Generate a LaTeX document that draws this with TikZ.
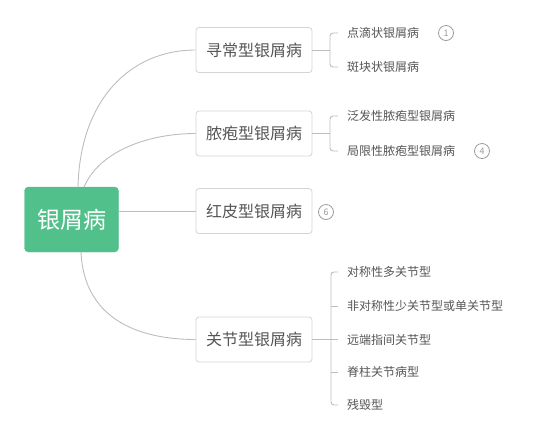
\documentclass[tikz,border=0pt]{standalone}
\usepackage{fontspec}
\setmainfont{Noto Sans CJK SC}
\usetikzlibrary{calc}
\begin{document}
\begin{tikzpicture}[x=1pt,y=-1pt,
  rootbox/.style={fill=rootgreen,draw=rootgreen,rounded corners=4pt,minimum width=94pt,minimum height=65pt,text=white,font=\fontsize{23}{26}\selectfont,inner sep=0pt},
  catbox/.style={draw=boxgray,line width=0.8pt,rounded corners=3pt,minimum width=116pt,minimum height=45pt,text=txtgray,font=\fontsize{16}{18}\selectfont,inner sep=0pt},
  leaf/.style={anchor=west,text=txtgray,font=\fontsize{12}{14}\selectfont,inner sep=0pt},
  numcirc/.style={draw=circgray,circle,line width=0.8pt,minimum size=15pt,inner sep=0pt,text=circgray,font=\fontsize{9}{10}\selectfont},
  conn/.style={draw=linegray,line width=0.9pt},
  brk/.style={draw=linegray,line width=0.9pt,rounded corners=3pt}
]
\definecolor{rootgreen}{HTML}{52C08A}
\definecolor{boxgray}{HTML}{D4D4D4}
\definecolor{txtgray}{HTML}{555555}
\definecolor{circgray}{HTML}{9A9A9A}
\definecolor{linegray}{HTML}{BDBDBD}
\useasboundingbox (0,0) rectangle (543,440);

\node[rootbox] (root) at (71.5,219.5) {银屑病};

\node[catbox] (c1) at (254,50) {寻常型银屑病};
\node[catbox] (c2) at (254,133.5) {脓疱型银屑病};
\node[catbox] (c3) at (254,211) {红皮型银屑病};
\node[catbox] (c4) at (254,339.5) {关节型银屑病};

% root connectors
\coordinate (r1) at (78,187);
\coordinate (r2) at (84,187);
\coordinate (r4) at (81,252);
\draw[conn] (r1) .. controls (80,100) and (130,50) .. (c1.west);
\draw[conn] (r2) .. controls (100,150) and (150,133.5) .. (c2.west);
\draw[conn] (root.east |- c3.west) -- (c3.west);
\draw[conn] (r4) .. controls (84,320) and (140,339.5) .. (c4.west);

% group 1
\node[leaf] (l11) at (347,33) {点滴状银屑病};
\node[leaf] (l12) at (347,67) {斑块状银屑病};
\node[numcirc] (m1) at (446,33) {1};
\draw[conn] (c1.east) -- (330,50);
\draw[brk] ($(l11.west)+(-9,0)$) -| (330,50) |- ($(l12.west)+(-9,0)$);

% group 2
\node[leaf] (l21) at (347,116) {泛发性脓疱型银屑病};
\node[leaf] (l22) at (347,151) {局限性脓疱型银屑病};
\node[numcirc] (m2) at (482,151) {4};
\draw[conn] (c2.east) -- (330,133.5);
\draw[brk] ($(l21.west)+(-9,0)$) -| (330,133.5) |- ($(l22.west)+(-9,0)$);

% group 3
\node[numcirc] (m3) at (326,212) {6};

% group 4
\node[leaf] (l41) at (347,272) {对称性多关节型};
\node[leaf] (l42) at (347,306) {非对称性少关节型或单关节型};
\node[leaf] (l43) at (347,339.5) {远端指间关节型};
\node[leaf] (l44) at (347,372) {脊柱关节病型};
\node[leaf] (l45) at (347,405) {残毁型};
\draw[conn] (c4.east) -- ($(l43.west)+(-9,0)$);
\draw[brk] ($(l41.west)+(-9,0)$) -| (331,339.5) |- ($(l45.west)+(-9,0)$);
\draw[conn] (331,306) -- ($(l42.west)+(-9,0)$);
\draw[conn] (331,372) -- ($(l44.west)+(-9,0)$);
\end{tikzpicture}
\end{document}
